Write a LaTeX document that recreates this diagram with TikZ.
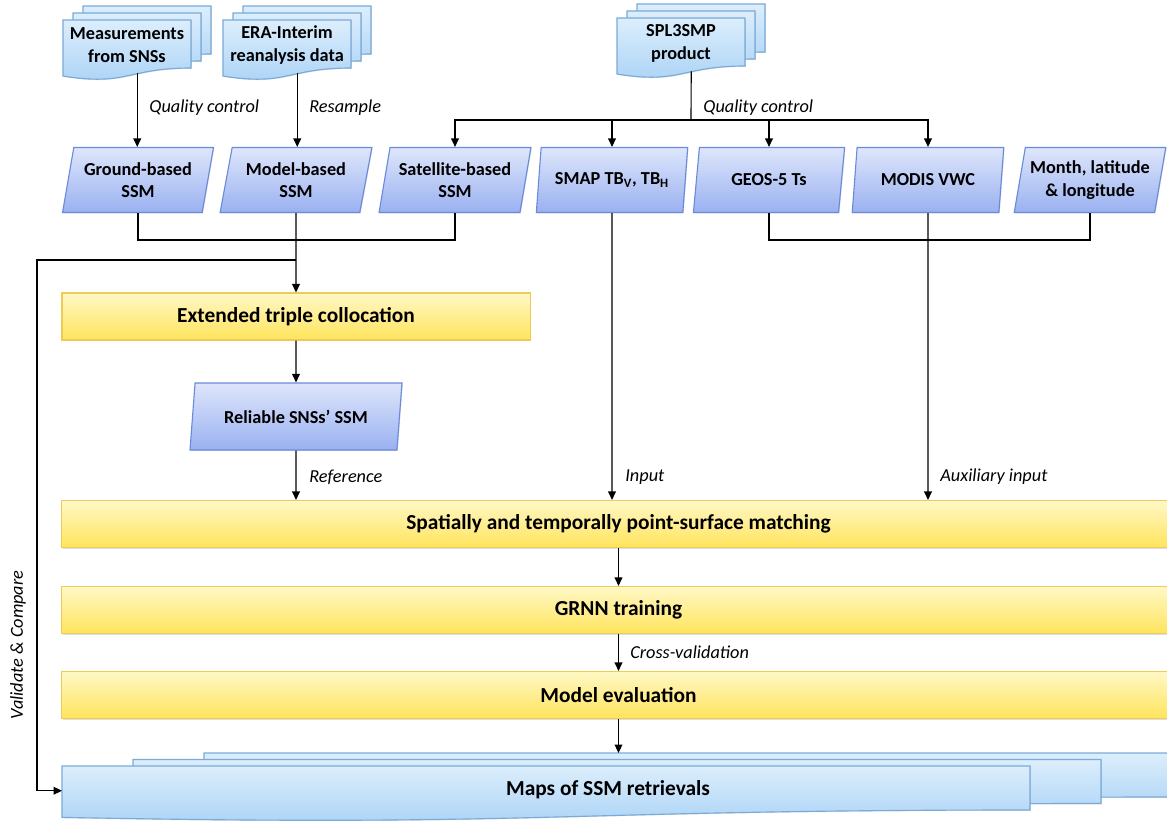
\documentclass[tikz,border=0pt]{standalone}
\usepackage{fontspec}
\setmainfont{Carlito}
\usetikzlibrary{calc,shapes.geometric,shadows,arrows.meta}

\definecolor{docedge}{HTML}{7AAAD8}
\definecolor{doctop}{HTML}{DCEEFC}
\definecolor{docbot}{HTML}{A9D2F6}
\definecolor{paredge}{HTML}{6A8BD9}
\definecolor{partop}{HTML}{DEE6FB}
\definecolor{parbot}{HTML}{9AB1F1}
\definecolor{yedge}{HTML}{EDCB55}
\definecolor{ytop}{HTML}{FFF8C6}
\definecolor{ybot}{HTML}{FFE45C}

\tikzset{
	docbox/.style={draw=docedge,line width=0.8pt,top color=doctop,bottom color=docbot,
		drop shadow={opacity=0.25,shadow xshift=0.6pt,shadow yshift=-0.6pt}},
	doctext/.style={align=center,font=\bfseries\fontsize{13}{16.5}\selectfont},
	inbox/.style={trapezium,trapezium left angle=75,trapezium right angle=105,trapezium stretches=true,
		minimum width=3.8cm,minimum height=1.625cm,inner sep=0pt,draw=paredge,line width=0.8pt,
		top color=partop,bottom color=parbot,align=center,font=\bfseries\fontsize{13}{16}\selectfont,
		drop shadow={opacity=0.25,shadow xshift=0.6pt,shadow yshift=-0.6pt}},
	stepbox/.style={rectangle,draw=yedge,line width=0.8pt,top color=ytop,bottom color=ybot,
		minimum height=1.175cm,font=\bfseries\fontsize{15.2}{18}\selectfont,
		drop shadow={opacity=0.25,shadow xshift=0.8pt,shadow yshift=-0.8pt}},
	lbl/.style={anchor=west,inner sep=2pt,font=\itshape\fontsize{13}{15}\selectfont}
}

% document outline with a wavy lower edge
\newcommand{\docpath}[4]{(#1,#2) -- ++(#3,0) -- ++(0,0.8*#4) .. controls +(-0.5*#3,0) and +(0.5*#3,0.173*#4) .. ++(-#3,0.134*#4) -- cycle}
\newcommand{\makedocs}[7]{
	\foreach \k in {2,1,0}
		\path[docbox] \docpath{#2+\k*#6}{#3-\k*#7}{#4}{#5};
	\coordinate (#1) at (#2+0.5*#4,#3+0.42*#5);
	\coordinate (#1-out) at (#2+0.58*#4,#3+0.89*#5);
	\coordinate (#1-w) at (#2,#3+0.45*#5);
}

\begin{document}
\begin{tikzpicture}[x=0.025cm,y=-0.025cm,>={Triangle[length=6pt,width=5.5pt]},line width=0.8pt]
	\useasboundingbox (0,0) rectangle (1167,821);
	\clip (0,0) rectangle (1167,821);
	\makedocs{meas-doc}{63}{20}{128}{60}{10}{7}
	\makedocs{era-doc}{223}{20}{128}{60}{10}{7}
	\makedocs{spl-doc}{617}{18}{128}{60}{10}{7}
	\node (meas) at (meas-doc) [doctext] {Measurements\\from SNSs};
	\node (era) at (era-doc) [doctext] {ERA-Interim\\reanalysis data};
	\node (spl) at (spl-doc) [doctext] {SPL3SMP\\product};

	\node (ground) at (138,180) [inbox] {Ground-based\\SSM};
	\node (model) at (296,180) [inbox] {Model-based\\SSM};
	\node (sat) at (455,180) [inbox] {Satellite-based\\SSM};
	\node (smap) at (612,180) [inbox] {SMAP TB\textsubscript{V}, TB\textsubscript{H}};
	\node (geos) at (769,180) [inbox] {GEOS-5 Ts};
	\node (modis) at (928,180) [inbox] {MODIS VWC};
	\node (month) at (1090,180) [inbox] {Month, latitude\\\& longitude};

	\node (etc) at (296,316.5) [stepbox,minimum width=11.7cm] {Extended triple collocation};
	\node (rel) at (296,416.5) [inbox,minimum width=5.3cm,minimum height=1.675cm] {Reliable SNSs’ SSM};
	\node (match) at (618.5,524) [stepbox,minimum width=27.825cm] {Spatially and temporally point-surface matching};
	\node (grnn) at (618.5,610) [stepbox,minimum width=27.825cm] {GRNN training};
	\node (evalm) at (618.5,695) [stepbox,minimum width=27.825cm] {Model evaluation};

	\makedocs{maps-doc}{62}{766}{968}{55}{71}{6.5}
	\node (maps) at (608,790) [doctext,font=\bfseries\fontsize{15.2}{18}\selectfont] {Maps of SSM retrievals};

	\coordinate (split) at (691,120);
	\coordinate (join) at (296,240);
	\coordinate (vsplit) at (296,260);
	\coordinate (vcorner) at (37,260);
	\coordinate (rjoin) at (928,240);
	\coordinate (maps-top) at (618.5,753);

	\draw[->] (meas-doc-out) -- (meas-doc-out |- ground.north);
	\draw[->] (era-doc-out) -- (era-doc-out |- model.north);
	\draw (spl-doc-out) -- (split);
	\draw[->] (split) -| (sat);
	\draw[->] (split) -| (smap);
	\draw[->] (split) -| (geos);
	\draw[->] (split) -| (modis);
	\draw (ground) |- (join) -| (sat);
	\draw[->] (model) -- (etc);
	\draw[->] (vsplit) -- (vcorner) |- (maps-doc-w);
	\draw (geos) |- (rjoin) -| (month);
	\draw[->] (etc) -- (rel);
	\draw[->] (rel) -- (rel |- match.north);
	\draw[->] (smap) -- (smap |- match.north);
	\draw[->] (modis) -- (modis |- match.north);
	\draw[->] (match) -- (grnn);
	\draw[->] (grnn) -- (evalm);
	\draw[->] (evalm) -- (maps-top);

	\node (lbl-qc1) at (146,108) [lbl] {Quality control};
	\node (lbl-rs) at (306,108) [lbl] {Resample};
	\node (lbl-qc2) at (700,108) [lbl] {Quality control};
	\node (lbl-ref) at (306,477) [lbl] {Reference};
	\node (lbl-in) at (622,477) [lbl] {Input};
	\node (lbl-aux) at (937,477) [lbl] {Auxiliary input};
	\node (lbl-cv) at (627,652) [lbl] {Cross-validation};
	\node (lbl-vc) at (18,645) [lbl,anchor=center,rotate=90] {Validate \& Compare};
\end{tikzpicture}
\end{document}
